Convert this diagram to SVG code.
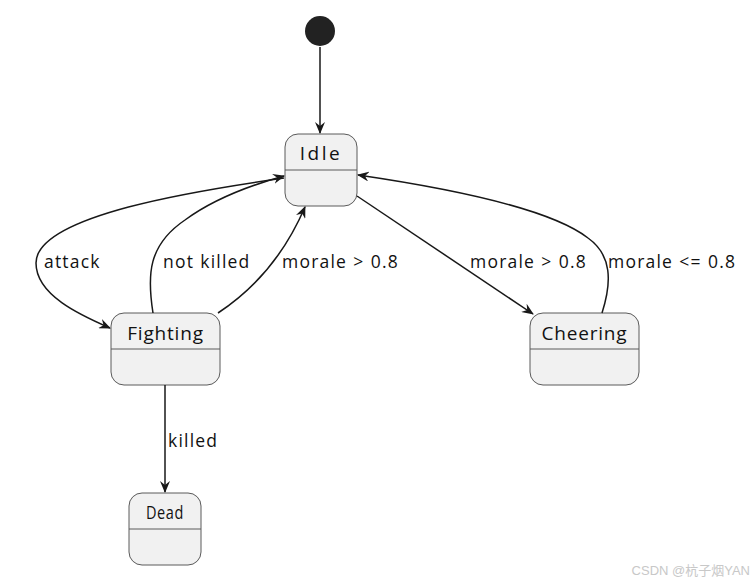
<svg xmlns="http://www.w3.org/2000/svg" width="755" height="584" viewBox="0 0 755 584">
<style>
.st rect{fill:#F1F1F1;stroke:#5a5a5a;stroke-width:1}
.st line{stroke:#5a5a5a;stroke-width:1}
.st text{font-family:"Open Sans","Noto Sans",sans-serif;font-size:19px;fill:#111;text-anchor:middle;letter-spacing:0.8px}
.lbl{font-family:"Open Sans","Noto Sans",sans-serif;font-size:17.5px;fill:#111;letter-spacing:1.2px;word-spacing:0.5px}
#edges path{fill:none;stroke:#181818;stroke-width:1.5}
</style>
<defs>
<marker id="ah" viewBox="0 0 12 10" refX="11" refY="5" markerWidth="12" markerHeight="10" markerUnits="userSpaceOnUse" orient="auto">
<path d="M0,0 L12,5 L0,10 L4,5 Z" fill="#181818"/>
</marker>
</defs>
<rect width="755" height="584" fill="#fff"/>
<g id="start"><circle cx="320" cy="31" r="15" fill="#222"/></g>
<g id="Idle" class="st"><rect x="285" y="134" width="72" height="72" rx="13"/><line x1="285" y1="170" x2="357" y2="170"/><text x="321" y="160" style="letter-spacing:2.5px">Idle</text></g>
<g id="Fighting" class="st"><rect x="111" y="313" width="109" height="72" rx="13"/><line x1="111" y1="349" x2="220" y2="349"/><text x="165.5" y="340">Fighting</text></g>
<g id="Cheering" class="st"><rect x="530" y="313" width="109" height="72" rx="13"/><line x1="530" y1="349" x2="639" y2="349"/><text x="584.5" y="340">Cheering</text></g>
<g id="Dead" class="st"><rect x="129" y="493" width="72" height="72" rx="13"/><line x1="129" y1="529" x2="201" y2="529"/><text x="165" y="519" textLength="38" lengthAdjust="spacingAndGlyphs">Dead</text></g>
<g id="edges">
<path d="M320,47 L320,133" marker-end="url(#ah)"/>
<path d="M284,178 C200,190 36,215 36,263 C36,295 80,315 110,328" marker-end="url(#ah)"/>
<path d="M153,313 C147,275 148,245 185,220 C215,198 255,184 284,176" marker-end="url(#ah)"/>
<path d="M218,313 C250,292 283,258 305,207" marker-end="url(#ah)"/>
<path d="M357,196 L533,314" marker-end="url(#ah)"/>
<path d="M602,313 C612,282 612,255 588,238 C548,207 440,187 358,175" marker-end="url(#ah)"/>
<path d="M165,385 L165,492" marker-end="url(#ah)"/>
</g>
<g id="labels">
<text class="lbl" x="44" y="268">attack</text>
<text class="lbl" x="163" y="268">not killed</text>
<text class="lbl" x="282" y="268">morale &gt; 0.8</text>
<text class="lbl" x="470" y="268">morale &gt; 0.8</text>
<text class="lbl" x="608" y="268">morale &lt;= 0.8</text>
<text class="lbl" x="168" y="447">killed</text>
</g>
<text x="750" y="575" text-anchor="end" font-family="'Liberation Sans','Noto Sans CJK SC',sans-serif" font-size="13" fill="#c8c8c8">CSDN @杭子烟YAN</text>
</svg>
